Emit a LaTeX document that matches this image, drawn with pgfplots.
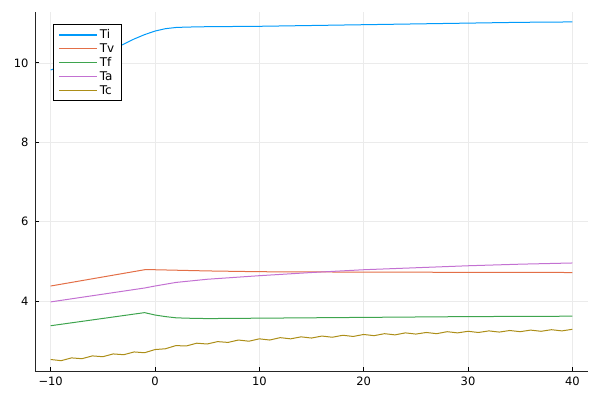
\documentclass[border=0pt]{standalone}
\usepackage{pgfplots}
\pgfplotsset{compat=1.18}
\usepackage{fontspec}
\setmainfont{DejaVu Sans}
\usetikzlibrary{calc}

\definecolor{cTi}{HTML}{009AFA}
\definecolor{cTv}{HTML}{E36F47}
\definecolor{cTf}{HTML}{3EA44E}
\definecolor{cTa}{HTML}{C371D2}
\definecolor{cTc}{HTML}{AC8E18}

\begin{document}
\begin{tikzpicture}
\begin{axis}[
    name=ax,
    scale only axis,
    width=553pt, height=359pt,
    xmin=-11.5, xmax=41.5,
    ymin=2.24, ymax=11.28,
    xtick={-10,0,10,20,30,40},
    xticklabels={−10,0,10,20,30,40},
    ytick={4,6,8,10},
    axis lines=left,
    axis line style={-, black!85, line width=0.8pt},
    tick align=inside,
    tick style={black, line width=0.7pt},
    major tick length=4pt,
    grid=major,
    grid style={black!8, line width=0.6pt},
    ticklabel style={font=\fontsize{11.5}{13}\selectfont},
    /pgf/number format/assume math mode=true,
    xticklabel style={yshift=-2pt},
    yticklabel style={xshift=-3pt},
    legend style={
        at={(0.033,0.966)}, anchor=north west,
        draw=black, line width=0.8pt, fill=white,
        font=\fontsize{12}{13}\selectfont,
        row sep=-0.5pt, inner xsep=5pt, inner ysep=3pt,
    },
    legend cell align=left,
    legend image code/.code={\draw[#1, line width=1.2pt] (0pt,0pt) -- (38pt,0pt);},
    every axis plot/.append style={line width=1pt},
]
\addplot[cTi] coordinates {
    (-10,9.82) (-9,9.90) (-8,9.98) (-7,10.06) (-6,10.15) (-5,10.25) (-4,10.35)
    (-3,10.47) (-2,10.60) (-1,10.71) (0,10.80) (1,10.86) (2,10.89) (3,10.90)
    (5,10.91) (10,10.92) (15,10.94) (20,10.96) (25,10.98) (30,11.00) (35,11.02) (40,11.03)
};
\addlegendentry{Ti}
\addplot[cTv] coordinates {
    (-10,4.38) (-1,4.79) (0,4.79) (5,4.76) (10,4.74) (15,4.735) (20,4.73) (30,4.725) (40,4.72)
};
\addlegendentry{Tv}
\addplot[cTf] coordinates {
    (-10,3.38) (-1,3.71) (0,3.65) (1,3.61) (2,3.58) (3,3.57) (5,3.56) (10,3.57)
    (20,3.59) (30,3.61) (40,3.62)
};
\addlegendentry{Tf}
\addplot[cTa] coordinates {
    (-10,3.98) (-1,4.33) (0,4.38) (2,4.47) (5,4.55) (10,4.64) (15,4.72) (20,4.79)
    (25,4.84) (30,4.89) (35,4.93) (40,4.96)
};
\addlegendentry{Ta}
\addplot[cTc] coordinates {
    (-10,2.53) (-9,2.50) (-8,2.57) (-7,2.55) (-6,2.62) (-5,2.60) (-4,2.67) (-3,2.65)
    (-2,2.72) (-1,2.70) (0,2.78) (1,2.80) (2,2.88) (3,2.87) (4,2.94) (5,2.92)
    (6,2.98) (7,2.96) (8,3.02) (9,2.99) (10,3.05) (11,3.02) (12,3.08) (13,3.05)
    (14,3.10) (15,3.07) (16,3.12) (17,3.09) (18,3.14) (19,3.11) (20,3.16) (21,3.13)
    (22,3.18) (23,3.15) (24,3.20) (25,3.17) (26,3.21) (27,3.18) (28,3.23) (29,3.20)
    (30,3.24) (31,3.21) (32,3.25) (33,3.22) (34,3.26) (35,3.23) (36,3.27) (37,3.24)
    (38,3.28) (39,3.25) (40,3.29)
};
\addlegendentry{Tc}
\end{axis}
\path[use as bounding box] ($(ax.south west)+(-35pt,-29pt)$) rectangle ($(ax.south west)+(565pt,371pt)$);
\end{tikzpicture}
\end{document}
